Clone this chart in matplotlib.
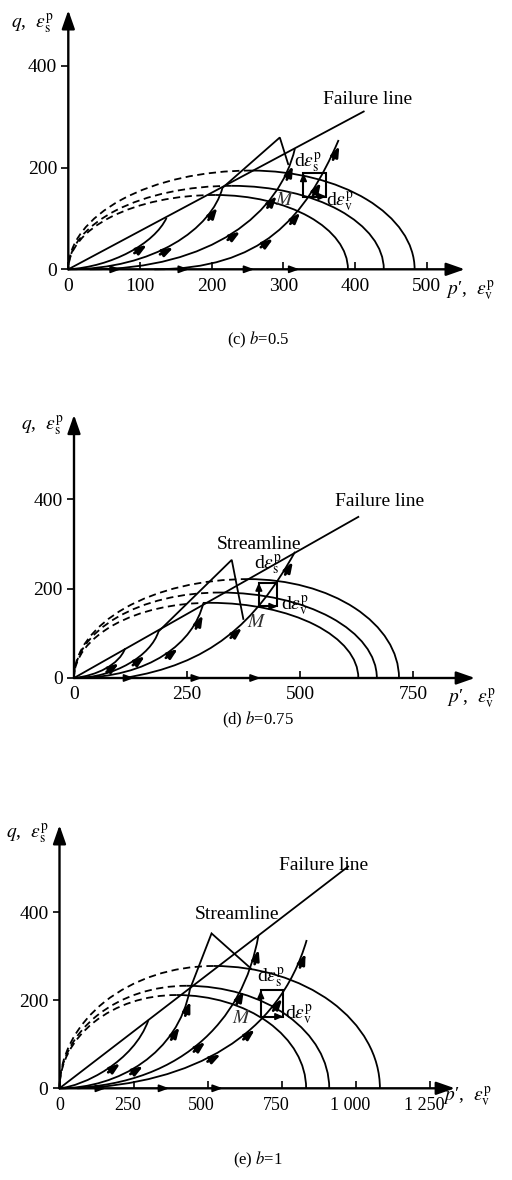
import numpy as np
import matplotlib
matplotlib.use("Agg")
import matplotlib.pyplot as plt
import matplotlib.transforms as mtransforms
from matplotlib.patches import Arc, PathPatch, Rectangle
from matplotlib.path import Path
from matplotlib.bezier import BezierSegment

plt.rcParams["font.family"] = ["Liberation Serif", "DejaVu Serif"]
plt.rcParams["mathtext.fontset"] = "stix"

W, H = 512, 1180

# ---------------- panel (c) b=0.5 ----------------
c_xticks = [0, 100, 200, 300, 400, 500]
c_xlabels = ["0", "100", "200", "300", "400", "500"]
c_yticks = [0, 200, 400]
c_p0 = [390, 440, 483]          # yield surfaces cut the p' axis here
c_pc = [205, 228, 255]          # p' where the dashed part ends (top of surface)
c_qc = [146, 164, 194]          # q at top of surface
c_fail = [412, 310]             # end of failure line
c_streams = [
    [(0, 0), (60, 5), (120, 50), (137, 101)],
    [(0, 0), (120, 0), (200, 80), (215, 160)],
    [(30, 0), (200, 0), (295, 110), (316, 237)],
    [(120, 0), (270, 0), (330, 100), (377, 254)],
]
c_zigzag = [(215, 160), (295, 259), (307, 205)]
c_arrow_t = [(0, 0.6), (1, 0.45), (1, 0.8), (2, 0.5), (2, 0.72), (2, 0.88),
             (3, 0.45), (3, 0.62), (3, 0.78), (3, 0.95)]
c_axis_arrows = [65, 160, 251, 314]
c_box = [328, 143, 360, 189]
c_text = {"fail": (418, 333), "stream": None, "ds": (334, 209),
          "dv": (379, 132), "M": (302, 136)}

# ---------------- panel (d) b=0.75 ----------------
d_xticks = [0, 250, 500, 750]
d_xlabels = ["0", "250", "500", "750"]
d_yticks = [0, 200, 400]
d_p0 = [629, 670, 719]
d_pc = [301, 323, 385]
d_qc = [168, 191, 221]
d_fail = [629, 360]
d_streams = [
    [(0, 0), (50, 5), (100, 30), (113, 66)],
    [(0, 0), (90, 0), (170, 50), (187, 104)],
    [(0, 0), (170, 0), (265, 80), (286, 167)],
    [(110, 0), (300, 30), (400, 120), (489, 282)],
]
d_zigzag = [(286, 167), (349, 264), (375, 130)]
d_arrow_t = [(0, 0.6), (1, 0.6), (2, 0.55), (2, 0.85), (3, 0.55), (3, 0.93)]
d_axis_arrows = [120, 270, 400]
d_box = [409, 160, 450, 213]
d_text = {"fail": (675, 394), "stream": (409, 299), "ds": (429, 252),
          "dv": (489, 161), "M": (405, 124)}

# ---------------- panel (e) b=1 ----------------
e_xticks = [0, 250, 500, 750, 1000, 1250]
e_xlabels = ["0", "250", "500", "750", "1 000", "1 250"]
e_yticks = [0, 200, 400]
e_p0 = [832, 910, 1081]
e_pc = [395, 429, 520]
e_qc = [212, 233, 278]
e_fail = [974, 504]
e_streams = [
    [(0, 0), (80, 5), (250, 60), (300, 155)],
    [(0, 0), (200, 0), (400, 80), (440, 225)],
    [(0, 0), (400, 0), (620, 150), (671, 347)],
    [(60, 0), (450, 10), (740, 120), (834, 337)],
]
e_zigzag = [(440, 225), (513, 352), (648, 271)]
e_arrow_t = [(0, 0.55), (1, 0.45), (1, 0.75), (1, 0.9), (2, 0.5), (2, 0.75),
             (2, 0.92), (3, 0.45), (3, 0.6), (3, 0.75), (3, 0.93)]
e_axis_arrows = [137, 350, 531]
e_box = [679, 163, 755, 223]
e_text = {"fail": (890, 507), "stream": (600, 394), "ds": (713, 250),
          "dv": (808, 167), "M": (615, 159)}

LW = 1.3


def curve_arrow(ax, seg, t, sx, sy, length=15, offset=-3):
    p = seg.point_at_t(t)
    a = seg.point_at_t(min(t + 0.01, 1.0))
    b = seg.point_at_t(max(t - 0.01, 0.0))
    d = np.array([(a[0] - b[0]) * sx, (a[1] - b[1]) * sy])
    d /= np.hypot(*d)
    n = np.array([-d[1], d[0]])
    c = np.array([p[0] * sx, p[1] * sy]) + n * offset
    s, e = c - d * length / 2, c + d * length / 2
    ax.annotate("", xy=(e[0] / sx, e[1] / sy), xytext=(s[0] / sx, s[1] / sy),
                arrowprops=dict(arrowstyle="-|>,head_length=0.6,head_width=0.22",
                                lw=2.0, color="k", shrinkA=0, shrinkB=0,
                                mutation_scale=10),
                annotation_clip=False)


def draw_panel(fig, ox, oy, sx, sy, xmax, ymax, xticks, xlabels, yticks,
               p0s, pcs, qcs, fail, streams, zigzag, arrow_t, axis_arrows,
               box, text, ylab_px, xlab_px, caption, cap_y, label_shift=0,
               xtick_size=14):
    ax = fig.add_axes([ox / W, 1 - oy / H, xmax * sx / W, ymax * sy / H])
    ax.set_xlim(0, xmax)
    ax.set_ylim(0, ymax)
    for s in ax.spines.values():
        s.set_visible(False)
    ax.set_xticks(xticks)
    ax.set_xticklabels(xlabels)
    ax.set_yticks(yticks)
    ax.tick_params(axis="x", direction="in", length=5, width=1.2,
                   labelsize=xtick_size, pad=6)
    ax.tick_params(axis="y", direction="out", length=5, width=1.2, labelsize=14, pad=3)
    if label_shift:
        off = mtransforms.ScaledTranslation(label_shift / 100, 0, fig.dpi_scale_trans)
        for lab in ax.get_xticklabels()[1:]:
            lab.set_transform(lab.get_transform() + off)

    # axes with arrow heads
    head = "-|>,head_length=0.8,head_width=0.28"
    ax.annotate("", xy=(xmax, 0), xytext=(0, 0), annotation_clip=False,
                arrowprops=dict(arrowstyle=head, lw=1.7, color="k",
                                shrinkA=0, shrinkB=0, mutation_scale=14))
    ax.annotate("", xy=(0, ymax), xytext=(0, 0), annotation_clip=False,
                arrowprops=dict(arrowstyle=head, lw=1.7, color="k",
                                shrinkA=0, shrinkB=0, mutation_scale=14))

    # yield surfaces: dashed left part, solid right part
    for p0, pc, qc in zip(p0s, pcs, qcs):
        ax.add_patch(Arc((pc, 0), 2 * (p0 - pc), 2 * qc, theta1=0, theta2=90,
                         lw=LW, color="k", clip_on=False))
        ax.add_patch(Arc((pc, 0), 2 * pc, 2 * qc, theta1=90, theta2=180,
                         lw=LW, color="k", ls=(0, (4, 2.5)), clip_on=False))

    # failure line
    ax.plot([0, fail[0]], [0, fail[1]], color="k", lw=LW, clip_on=False)

    # streamlines
    segs = []
    for i, pts in enumerate(streams):
        verts = list(pts)
        codes = [Path.MOVETO, Path.CURVE4, Path.CURVE4, Path.CURVE4]
        if i == 1:
            verts += list(zigzag[1:])
            codes += [Path.LINETO] * (len(zigzag) - 1)
        ax.add_patch(PathPatch(Path(verts, codes), fill=False, lw=LW,
                               color="k", clip_on=False))
        segs.append(BezierSegment(np.array(pts, dtype=float)))
    for i, t in arrow_t:
        curve_arrow(ax, segs[i], t, sx, sy)

    # arrow heads on the p' axis
    for xa in axis_arrows:
        ax.annotate("", xy=(xa + 6 / sx, 0), xytext=(xa - 6 / sx, 0),
                    annotation_clip=False,
                    arrowprops=dict(arrowstyle="-|>,head_length=0.6,head_width=0.22",
                                    lw=1.2, color="k", shrinkA=0, shrinkB=0,
                                    mutation_scale=10))

    # strain increment box
    x0, y0, x1, y1 = box
    ax.add_patch(Rectangle((x0, y0), x1 - x0, y1 - y0, fill=False, lw=1.5,
                           color="k", clip_on=False))
    small = dict(arrowstyle="-|>,head_length=0.5,head_width=0.22", lw=1.2,
                 color="k", shrinkA=0, shrinkB=0, mutation_scale=9)
    ax.annotate("", xy=(x0, y1), xytext=(x0, y1 - 8 / sy), arrowprops=small,
                annotation_clip=False)
    ax.annotate("", xy=(x1, y0), xytext=(x1 - 8 / sx, y0), arrowprops=small,
                annotation_clip=False)

    ax.text(*text["fail"], "Failure line", fontsize=14, ha="center", va="center")
    if text["stream"] is not None:
        ax.text(*text["stream"], "Streamline", fontsize=14, ha="center", va="center")
    ax.text(*text["ds"], r"d$\varepsilon_{\rm s}^{\rm p}$", fontsize=14,
            ha="center", va="center")
    ax.text(*text["dv"], r"d$\varepsilon_{\rm v}^{\rm p}$", fontsize=14,
            ha="center", va="center")
    ax.text(*text["M"], r"$M$", fontsize=14, ha="center", va="center", color="#333333")

    fig.text(ylab_px[0] / W, 1 - ylab_px[1] / H,
             r"$q$,  $\varepsilon_{\rm s}^{\rm p}$", fontsize=14,
             ha="left", va="center")
    fig.text(xlab_px[0] / W, 1 - xlab_px[1] / H,
             r"$p$′,  $\varepsilon_{\rm v}^{\rm p}$", fontsize=14,
             ha="left", va="center")
    fig.text(258 / W, 1 - cap_y / H, caption, fontsize=12, ha="center", va="center")
    return ax


fig = plt.figure(figsize=(W / 100, H / 100), dpi=100)

draw_panel(fig, 68.3, 269.3, 0.717, 0.509, 553, 509, c_xticks, c_xlabels, c_yticks,
           c_p0, c_pc, c_qc, c_fail, c_streams, c_zigzag, c_arrow_t, c_axis_arrows,
           c_box, c_text, (11, 24), (446, 291), r"(c) $b$=0.5", 340)
draw_panel(fig, 74, 678, 0.452, 0.4475, 887, 588, d_xticks, d_xlabels, d_yticks,
           d_p0, d_pc, d_qc, d_fail, d_streams, d_zigzag, d_arrow_t, d_axis_arrows,
           d_box, d_text, (21, 426), (447, 699), r"(d) $b$=0.75", 720)
draw_panel(fig, 59.5, 1088.3, 0.2964, 0.44, 1334, 598, e_xticks, e_xlabels, e_yticks,
           e_p0, e_pc, e_qc, e_fail, e_streams, e_zigzag, e_arrow_t, e_axis_arrows,
           e_box, e_text, (6, 834), (443, 1097), r"(e) $b$=1", 1160, label_shift=-6,
           xtick_size=13)

fig.savefig("out.png", dpi=100)
